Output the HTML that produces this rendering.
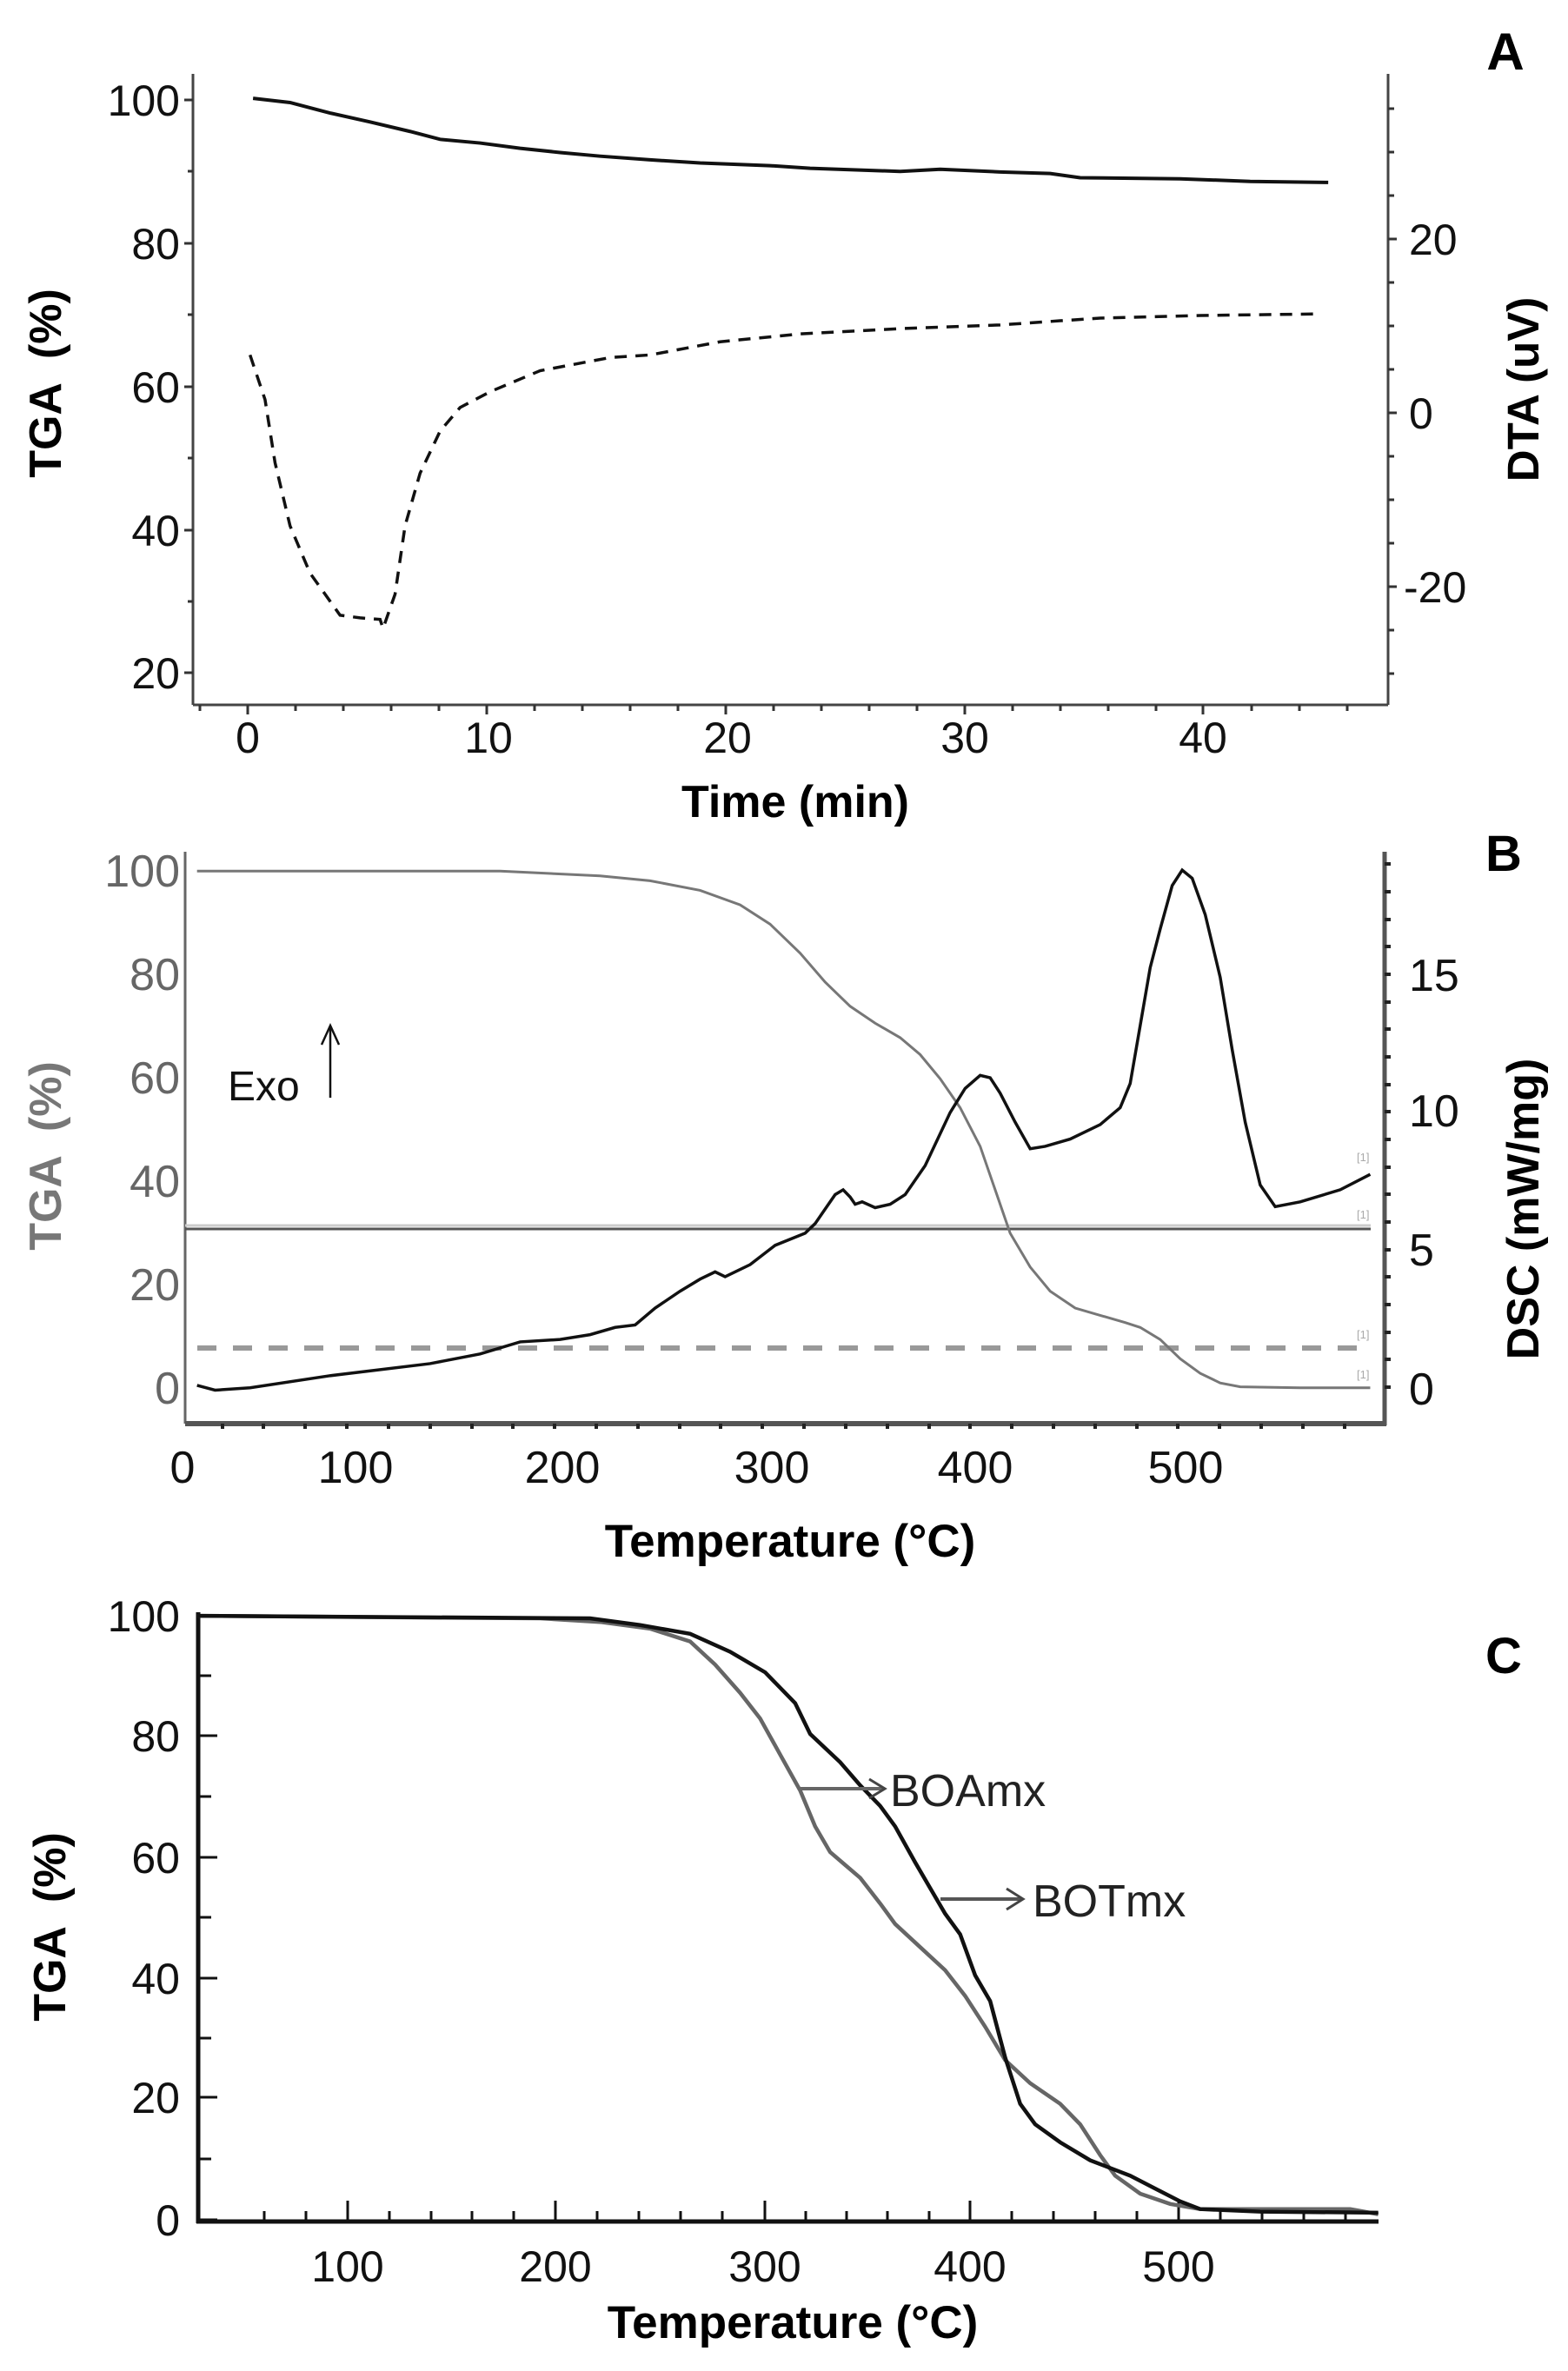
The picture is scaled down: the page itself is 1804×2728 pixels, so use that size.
<!DOCTYPE html>
<html><head><meta charset="utf-8"><style>
html,body{margin:0;padding:0;background:#fff;}
svg{display:block;}
text{font-family:"Liberation Sans",Arial,sans-serif;}
</style></head><body>
<svg width="1804" height="2728" viewBox="0 0 1804 2728" xmlns="http://www.w3.org/2000/svg">
<rect width="1804" height="2728" fill="#fff"/>

<!-- ================= PANEL A ================= -->
<g stroke="#444" stroke-width="3" fill="none">
  <line x1="222" y1="85" x2="222" y2="811"/>
  <line x1="1597" y1="85" x2="1597" y2="811"/>
  <line x1="222" y1="811" x2="1597" y2="811"/>
</g>
<g stroke="#333" stroke-width="3">
  <!-- left ticks -->
  <line x1="212" y1="115" x2="222" y2="115"/><line x1="216" y1="197" x2="222" y2="197"/>
  <line x1="212" y1="280" x2="222" y2="280"/><line x1="216" y1="362" x2="222" y2="362"/>
  <line x1="212" y1="445" x2="222" y2="445"/><line x1="216" y1="527" x2="222" y2="527"/>
  <line x1="212" y1="610" x2="222" y2="610"/><line x1="216" y1="692" x2="222" y2="692"/>
  <line x1="212" y1="774" x2="222" y2="774"/>
  <!-- right ticks -->
  <line x1="1597" y1="125" x2="1604" y2="125"/><line x1="1597" y1="175" x2="1604" y2="175"/>
  <line x1="1597" y1="225" x2="1604" y2="225"/><line x1="1597" y1="275" x2="1607" y2="275"/>
  <line x1="1597" y1="325" x2="1604" y2="325"/><line x1="1597" y1="375" x2="1604" y2="375"/>
  <line x1="1597" y1="425" x2="1604" y2="425"/><line x1="1597" y1="475" x2="1607" y2="475"/>
  <line x1="1597" y1="525" x2="1604" y2="525"/><line x1="1597" y1="575" x2="1604" y2="575"/>
  <line x1="1597" y1="625" x2="1604" y2="625"/><line x1="1597" y1="675" x2="1607" y2="675"/>
  <line x1="1597" y1="725" x2="1604" y2="725"/><line x1="1597" y1="775" x2="1604" y2="775"/>
  <!-- bottom ticks every 2 min -->
  <line x1="230" y1="811" x2="230" y2="818"/><line x1="285" y1="811" x2="285" y2="822"/>
  <line x1="340" y1="811" x2="340" y2="818"/><line x1="395" y1="811" x2="395" y2="818"/>
  <line x1="450" y1="811" x2="450" y2="818"/><line x1="505" y1="811" x2="505" y2="818"/>
  <line x1="560" y1="811" x2="560" y2="822"/><line x1="615" y1="811" x2="615" y2="818"/>
  <line x1="670" y1="811" x2="670" y2="818"/><line x1="725" y1="811" x2="725" y2="818"/>
  <line x1="780" y1="811" x2="780" y2="818"/><line x1="835" y1="811" x2="835" y2="822"/>
  <line x1="890" y1="811" x2="890" y2="818"/><line x1="945" y1="811" x2="945" y2="818"/>
  <line x1="1000" y1="811" x2="1000" y2="818"/><line x1="1055" y1="811" x2="1055" y2="818"/>
  <line x1="1110" y1="811" x2="1110" y2="822"/><line x1="1165" y1="811" x2="1165" y2="818"/>
  <line x1="1220" y1="811" x2="1220" y2="818"/><line x1="1275" y1="811" x2="1275" y2="818"/>
  <line x1="1330" y1="811" x2="1330" y2="818"/><line x1="1384" y1="811" x2="1384" y2="822"/>
  <line x1="1440" y1="811" x2="1440" y2="818"/><line x1="1495" y1="811" x2="1495" y2="818"/>
  <line x1="1550" y1="811" x2="1550" y2="818"/>
</g>
<g font-size="50" fill="#111" text-anchor="end">
  <text x="207" y="133">100</text><text x="207" y="298">80</text><text x="207" y="463">60</text>
  <text x="207" y="628">40</text><text x="207" y="792">20</text>
</g>
<g font-size="50" fill="#111" text-anchor="start">
  <text x="1621" y="293">20</text><text x="1621" y="493">0</text><text x="1615" y="693">-20</text>
</g>
<g font-size="50" fill="#111" text-anchor="middle">
  <text x="285" y="866">0</text><text x="562" y="866">10</text><text x="837" y="866">20</text>
  <text x="1110" y="866">30</text><text x="1384" y="866">40</text>
</g>
<text x="915" y="940" font-size="52" font-weight="bold" text-anchor="middle">Time (min)</text>
<text x="1732" y="80" font-size="60" font-weight="bold" text-anchor="middle">A</text>
<text transform="translate(70,441) rotate(-90)" font-size="52" font-weight="bold" text-anchor="middle" xml:space="preserve">TGA  (%)</text>
<text transform="translate(1770,448) rotate(-90)" font-size="51" font-weight="bold" text-anchor="middle">DTA (uV)</text>

<g transform="scale(1.1507,0.605)" fill="none">
  <polyline vector-effect="non-scaling-stroke" stroke="#111" stroke-width="4" points="253,187 290,195 330,215 370,232 410,250 440,265 480,272 520,282 560,290 600,297 650,304 700,310 770,315 810,320 900,326 940,322 1000,327 1050,330 1080,338 1180,340 1250,345 1328,347"/>
  <polyline vector-effect="non-scaling-stroke" stroke="#111" stroke-width="3.5" stroke-dasharray="14 10" points="250,675 265,760 275,880 290,1000 310,1090 340,1170 360,1175 380,1178 383,1195 395,1130 405,1000 420,900 440,820 460,775 490,745 540,705 610,680 650,675 720,650 800,635 900,625 1000,618 1060,610 1100,605 1200,600 1320,597"/>
</g>

<!-- ================= PANEL B ================= -->
<g stroke="#666" fill="none">
  <line x1="213" y1="980" x2="213" y2="1638" stroke-width="3"/>
  <line x1="1593" y1="980" x2="1593" y2="1640" stroke-width="5" stroke="#555"/>
  <line x1="213" y1="1638" x2="1595" y2="1638" stroke-width="6" stroke="#555"/>
</g>
<g stroke="#222" stroke-width="4">
  <line x1="1593" y1="1596" x2="1600" y2="1596"/><line x1="1593" y1="1564" x2="1600" y2="1564"/>
  <line x1="1593" y1="1533" x2="1600" y2="1533"/><line x1="1593" y1="1501" x2="1600" y2="1501"/>
  <line x1="1593" y1="1469" x2="1600" y2="1469"/><line x1="1593" y1="1438" x2="1600" y2="1438"/>
  <line x1="1593" y1="1406" x2="1600" y2="1406"/><line x1="1593" y1="1374" x2="1600" y2="1374"/>
  <line x1="1593" y1="1343" x2="1600" y2="1343"/><line x1="1593" y1="1311" x2="1600" y2="1311"/>
  <line x1="1593" y1="1279" x2="1600" y2="1279"/><line x1="1593" y1="1248" x2="1600" y2="1248"/>
  <line x1="1593" y1="1216" x2="1600" y2="1216"/><line x1="1593" y1="1184" x2="1600" y2="1184"/>
  <line x1="1593" y1="1153" x2="1600" y2="1153"/><line x1="1593" y1="1121" x2="1600" y2="1121"/>
  <line x1="1593" y1="1089" x2="1600" y2="1089"/><line x1="1593" y1="1058" x2="1600" y2="1058"/>
  <line x1="1593" y1="1026" x2="1600" y2="1026"/><line x1="1593" y1="994" x2="1600" y2="994"/>
</g>
<g stroke="#222" stroke-width="4">
  <line x1="256" y1="1638" x2="256" y2="1644"/><line x1="303" y1="1638" x2="303" y2="1644"/>
  <line x1="351" y1="1638" x2="351" y2="1644"/><line x1="399" y1="1638" x2="399" y2="1644"/>
  <line x1="447" y1="1638" x2="447" y2="1644"/><line x1="495" y1="1638" x2="495" y2="1644"/>
  <line x1="543" y1="1638" x2="543" y2="1644"/><line x1="590" y1="1638" x2="590" y2="1644"/>
  <line x1="638" y1="1638" x2="638" y2="1644"/><line x1="686" y1="1638" x2="686" y2="1644"/>
  <line x1="734" y1="1638" x2="734" y2="1644"/><line x1="782" y1="1638" x2="782" y2="1644"/>
  <line x1="829" y1="1638" x2="829" y2="1644"/><line x1="877" y1="1638" x2="877" y2="1644"/>
  <line x1="925" y1="1638" x2="925" y2="1644"/><line x1="973" y1="1638" x2="973" y2="1644"/>
  <line x1="1021" y1="1638" x2="1021" y2="1644"/><line x1="1069" y1="1638" x2="1069" y2="1644"/>
  <line x1="1116" y1="1638" x2="1116" y2="1644"/><line x1="1164" y1="1638" x2="1164" y2="1644"/>
  <line x1="1212" y1="1638" x2="1212" y2="1644"/><line x1="1260" y1="1638" x2="1260" y2="1644"/>
  <line x1="1308" y1="1638" x2="1308" y2="1644"/><line x1="1355" y1="1638" x2="1355" y2="1644"/>
  <line x1="1403" y1="1638" x2="1403" y2="1644"/><line x1="1451" y1="1638" x2="1451" y2="1644"/>
  <line x1="1499" y1="1638" x2="1499" y2="1644"/><line x1="1547" y1="1638" x2="1547" y2="1644"/>
</g>
<g font-size="52" fill="#666" text-anchor="end">
  <text x="207" y="1020">100</text><text x="207" y="1139">80</text><text x="207" y="1258">60</text>
  <text x="207" y="1377">40</text><text x="207" y="1496">20</text><text x="207" y="1615">0</text>
</g>
<g font-size="52" fill="#111" text-anchor="start">
  <text x="1621" y="1140">15</text><text x="1621" y="1296">10</text><text x="1621" y="1456">5</text><text x="1621" y="1616">0</text>
</g>
<g font-size="52" fill="#111" text-anchor="middle">
  <text x="210" y="1706">0</text><text x="409" y="1706">100</text><text x="647" y="1706">200</text>
  <text x="888" y="1706">300</text><text x="1122" y="1706">400</text><text x="1364" y="1706">500</text>
</g>
<text x="909" y="1791" font-size="53" font-weight="bold" text-anchor="middle">Temperature (°C)</text>
<text x="1730" y="1002" font-size="58" font-weight="bold" text-anchor="middle">B</text>
<text transform="translate(70,1330) rotate(-90)" font-size="52" font-weight="bold" fill="#777" text-anchor="middle" xml:space="preserve">TGA  (%)</text>
<text transform="translate(1770,1391) rotate(-90)" font-size="52" font-weight="bold" text-anchor="middle">DSC (mW/mg)</text>
<text x="262" y="1266" font-size="48" fill="#111">Exo</text>
<line x1="380" y1="1263" x2="380" y2="1182" stroke="#111" stroke-width="2.5"/>
<polyline points="370,1202 380,1180 390,1202" fill="none" stroke="#111" stroke-width="2.5"/>

<line x1="213" y1="1410" x2="1577" y2="1410" stroke="#ccc" stroke-width="3"/>
<line x1="213" y1="1414" x2="1577" y2="1414" stroke="#555" stroke-width="3"/>
<line x1="227" y1="1551" x2="1577" y2="1551" stroke="#999" stroke-width="6" stroke-dasharray="22 19"/>
<g font-size="13" fill="#aaa">
  <text x="1561" y="1336">[1]</text><text x="1561" y="1402">[1]</text>
  <text x="1561" y="1540">[1]</text><text x="1561" y="1586">[1]</text>
</g>
<g transform="translate(0,930) scale(1.1507,0.5556)" fill="none">
  <polyline vector-effect="non-scaling-stroke" stroke="#777" stroke-width="3" points="197,130 500,130 600,140 650,150 700,170 740,200 770,240 800,300 825,360 850,410 875,445 900,475 920,510 940,560 960,620 980,700 995,790 1010,880 1030,950 1050,1000 1075,1035 1100,1050 1125,1065 1140,1075 1160,1100 1180,1140 1200,1170 1220,1190 1240,1198 1300,1200 1370,1200"/>
  <polyline vector-effect="non-scaling-stroke" stroke="#111" stroke-width="3.5" points="197,1195 215,1205 250,1200 330,1175 430,1150 480,1130 520,1105 560,1100 590,1090 615,1075 635,1070 655,1035 680,1000 700,975 715,960 725,970 750,945 775,905 805,880 815,860 825,830 835,800 843,790 850,805 855,820 862,815 875,827 890,820 905,800 925,740 950,630 965,580 980,553 990,558 1000,590 1015,650 1030,705 1045,700 1070,685 1100,655 1120,620 1130,570 1140,450 1150,330 1160,250 1172,160 1182,128 1192,145 1205,220 1220,350 1232,500 1245,650 1260,780 1275,825 1300,815 1340,790 1370,758"/>
</g>

<!-- ================= PANEL C ================= -->
<g stroke="#111" fill="none">
  <line x1="228" y1="1855" x2="228" y2="2558" stroke-width="5"/>
  <line x1="226" y1="2556" x2="1586" y2="2556" stroke-width="5"/>
</g>
<g stroke="#111" stroke-width="3">
  <line x1="228" y1="1859" x2="250" y2="1859"/><line x1="228" y1="1928" x2="243" y2="1928"/>
  <line x1="228" y1="1997" x2="250" y2="1997"/><line x1="228" y1="2067" x2="243" y2="2067"/>
  <line x1="228" y1="2137" x2="250" y2="2137"/><line x1="228" y1="2206" x2="243" y2="2206"/>
  <line x1="228" y1="2276" x2="250" y2="2276"/><line x1="228" y1="2345" x2="243" y2="2345"/>
  <line x1="228" y1="2413" x2="250" y2="2413"/><line x1="228" y1="2484" x2="243" y2="2484"/>
  <line x1="228" y1="2554" x2="250" y2="2554"/>
</g>
<g stroke="#111" stroke-width="3">
  <line x1="304" y1="2556" x2="304" y2="2544"/><line x1="352" y1="2556" x2="352" y2="2544"/>
  <line x1="400" y1="2556" x2="400" y2="2532"/><line x1="448" y1="2556" x2="448" y2="2544"/>
  <line x1="496" y1="2556" x2="496" y2="2544"/><line x1="543" y1="2556" x2="543" y2="2544"/>
  <line x1="591" y1="2556" x2="591" y2="2544"/><line x1="639" y1="2556" x2="639" y2="2532"/>
  <line x1="687" y1="2556" x2="687" y2="2544"/><line x1="735" y1="2556" x2="735" y2="2544"/>
  <line x1="783" y1="2556" x2="783" y2="2544"/><line x1="831" y1="2556" x2="831" y2="2544"/>
  <line x1="880" y1="2556" x2="880" y2="2532"/><line x1="927" y1="2556" x2="927" y2="2544"/>
  <line x1="974" y1="2556" x2="974" y2="2544"/><line x1="1021" y1="2556" x2="1021" y2="2544"/>
  <line x1="1069" y1="2556" x2="1069" y2="2544"/><line x1="1116" y1="2556" x2="1116" y2="2532"/>
  <line x1="1164" y1="2556" x2="1164" y2="2544"/><line x1="1212" y1="2556" x2="1212" y2="2544"/>
  <line x1="1260" y1="2556" x2="1260" y2="2544"/><line x1="1308" y1="2556" x2="1308" y2="2544"/>
  <line x1="1356" y1="2556" x2="1356" y2="2532"/><line x1="1404" y1="2556" x2="1404" y2="2544"/>
  <line x1="1452" y1="2556" x2="1452" y2="2544"/><line x1="1500" y1="2556" x2="1500" y2="2544"/>
  <line x1="1548" y1="2556" x2="1548" y2="2544"/>
</g>
<g font-size="50" fill="#111" text-anchor="end">
  <text x="207" y="1877">100</text><text x="207" y="2015">80</text><text x="207" y="2155">60</text>
  <text x="207" y="2294">40</text><text x="207" y="2431">20</text><text x="207" y="2572">0</text>
</g>
<g font-size="50" fill="#111" text-anchor="middle">
  <text x="400" y="2625">100</text><text x="639" y="2625">200</text><text x="880" y="2625">300</text>
  <text x="1116" y="2625">400</text><text x="1356" y="2625">500</text>
</g>
<text x="912" y="2690" font-size="53" font-weight="bold" text-anchor="middle">Temperature (°C)</text>
<text x="1730" y="1925" font-size="58" font-weight="bold" text-anchor="middle">C</text>
<text transform="translate(75,2217) rotate(-90)" font-size="52" font-weight="bold" text-anchor="middle" xml:space="preserve">TGA  (%)</text>

<g transform="translate(0,1800) scale(1.1507,0.591)" fill="none">
  <polyline vector-effect="non-scaling-stroke" stroke="#666" stroke-width="4.5" points="198,100 540,105 600,112 650,125 690,150 715,195 740,250 760,300 780,370 800,440 815,510 830,560 845,585 860,610 880,660 895,700 920,745 945,790 965,840 985,900 1005,965 1030,1010 1060,1050 1080,1090 1100,1150 1115,1190 1140,1225 1170,1245 1200,1255 1350,1255 1378,1265"/>
  <polyline vector-effect="non-scaling-stroke" stroke="#111" stroke-width="4.5" points="198,100 590,105 640,118 690,135 730,170 765,210 795,270 810,330 840,385 860,430 880,470 895,510 915,580 930,630 945,680 960,720 975,800 990,850 1005,960 1020,1050 1035,1090 1060,1125 1090,1160 1110,1175 1130,1190 1155,1215 1180,1240 1200,1255 1260,1260 1378,1262"/>
</g>
<!-- annotations -->
<line x1="921" y1="2058" x2="1016" y2="2058" stroke="#666" stroke-width="4"/>
<polyline points="1000,2047 1018,2058 1000,2069" fill="none" stroke="#444" stroke-width="3"/>
<text x="1024" y="2078" font-size="52" fill="#222">BOAmx</text>
<line x1="1082" y1="2185" x2="1175" y2="2185" stroke="#555" stroke-width="4"/>
<polyline points="1158,2173 1177,2185 1158,2197" fill="none" stroke="#444" stroke-width="3"/>
<text x="1188" y="2205" font-size="52" fill="#222">BOTmx</text>
</svg>
</body></html>
